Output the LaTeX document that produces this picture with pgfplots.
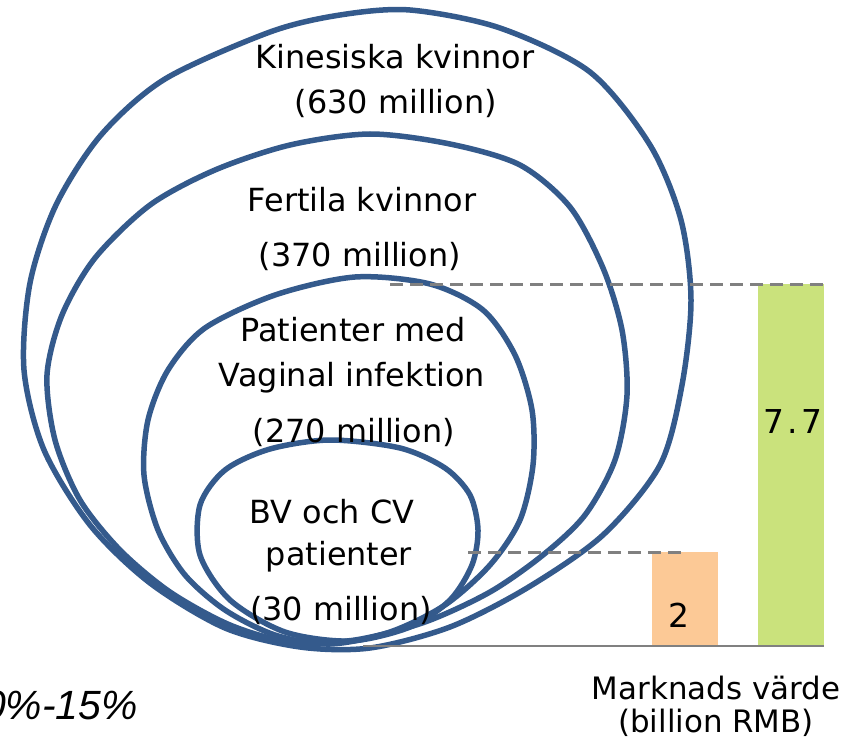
\documentclass[border=0pt]{standalone}
\usepackage{fontspec}
\setmainfont{DejaVu Sans}
\newfontfamily\arialfont{Liberation Sans}
\usepackage{pgfplots}
\pgfplotsset{compat=1.18}

\definecolor{ring}{RGB}{52,90,140}
\definecolor{barorange}{RGB}{252,201,150}
\definecolor{bargreen}{RGB}{202,226,124}
\definecolor{guide}{RGB}{128,128,128}

\begin{document}
\begin{tikzpicture}
\pgfplotsset{every axis/.append style={width=856bp,height=741bp,scale only axis,hide axis,clip=false}}
% nested rings, in picture pixels (y down)
\begin{axis}[xmin=0,xmax=856,ymin=0,ymax=741,y dir=reverse]
\addplot[ring, line width=5.5bp, smooth cycle] coordinates {(410,10) (500,28) (590,72) (650,145) (681,220) (691,300) (682,385) (660,465) (603,535) (527,588) (450,627) (370,648) (300,647) (225,628) (150,583) (90,525) (44,450) (24,370) (30,283) (56,205) (101,135) (165,79) (270,32) (340,15)};
\addplot[ring, line width=5.5bp, smooth cycle] coordinates {(370,134) (450,144) (520,165) (570,207) (603,268) (622,330) (627,395) (615,460) (585,515) (543,555) (490,592) (425,622) (355,640) (290,642) (230,625) (170,592) (120,550) (80,500) (55,440) (47,375) (62,315) (95,258) (150,205) (215,170) (290,145)};
\addplot[ring, line width=5.5bp, smooth cycle] coordinates {(355,277) (430,284) (483,310) (515,355) (532,410) (533,465) (520,520) (490,565) (445,605) (390,632) (330,644) (275,635) (225,610) (185,575) (158,530) (144,475) (148,420) (168,370) (205,328) (275,295)};
\addplot[ring, line width=5.5bp, smooth cycle] coordinates {(330,440) (400,448) (445,468) (470,495) (478,530) (472,565) (450,600) (410,627) (350,641) (285,632) (230,600) (200,555) (200,505) (225,470) (270,449)};

\begin{scope}[every node/.style={font=\fontsize{32}{38}\selectfont}]
\node at (axis cs:395,57) {Kinesiska kvinnor};
\node at (axis cs:396,103) {(630 million)};
\node at (axis cs:362,200) {Fertila kvinnor};
\node at (axis cs:360,256) {(370 million)};
\node at (axis cs:353,330) {Patienter med};
\node at (axis cs:352,378) {Vaginal infektion};
\node at (axis cs:354,432) {(270 million)};
\node at (axis cs:332,512) {BV och CV};
\node at (axis cs:339,557) {patienter};
\node at (axis cs:341,610) {(30 million)};
\end{scope}
\end{axis}

% market value bars (billion RMB)
\begin{axis}[xmin=0,xmax=856,ymin=-2.0213,ymax=13.745]
\addplot[ybar, bar width=66, bar shift=0pt, fill=barorange, draw=none] coordinates {(685,2)};
\addplot[ybar, bar width=66, bar shift=0pt, fill=bargreen, draw=none] coordinates {(791,7.7)};
\addplot[guide, line width=3bp, dash pattern=on 13bp off 7bp] coordinates {(390,7.7) (824,7.7)};
\addplot[guide, line width=3bp, dash pattern=on 13bp off 7bp] coordinates {(468,2) (686,2)};
\addplot[guide, line width=2.5bp] coordinates {(363,0) (824,0)};

\begin{scope}[every node/.style={font=\fontsize{33}{39}\selectfont}]
\node at (axis cs:679,0.66) {2};
\node at (axis cs:793,4.77) {7\hspace{3.5bp}.\hspace{3.5bp}7};
\end{scope}
\begin{scope}[every node/.style={font=\fontsize{31}{37}\selectfont}]
\node at (axis cs:716,-0.90) {Marknads värde};
\node at (axis cs:716,-1.64) {(billion RMB)};
\end{scope}
\node[anchor=east, font=\arialfont\itshape\fontsize{41}{49}\selectfont] at (axis cs:141,-1.26) {10\%-15\%};
\end{axis}
\pgfresetboundingbox
\useasboundingbox (0,0) rectangle (856bp,741bp);
\end{tikzpicture}
\end{document}
